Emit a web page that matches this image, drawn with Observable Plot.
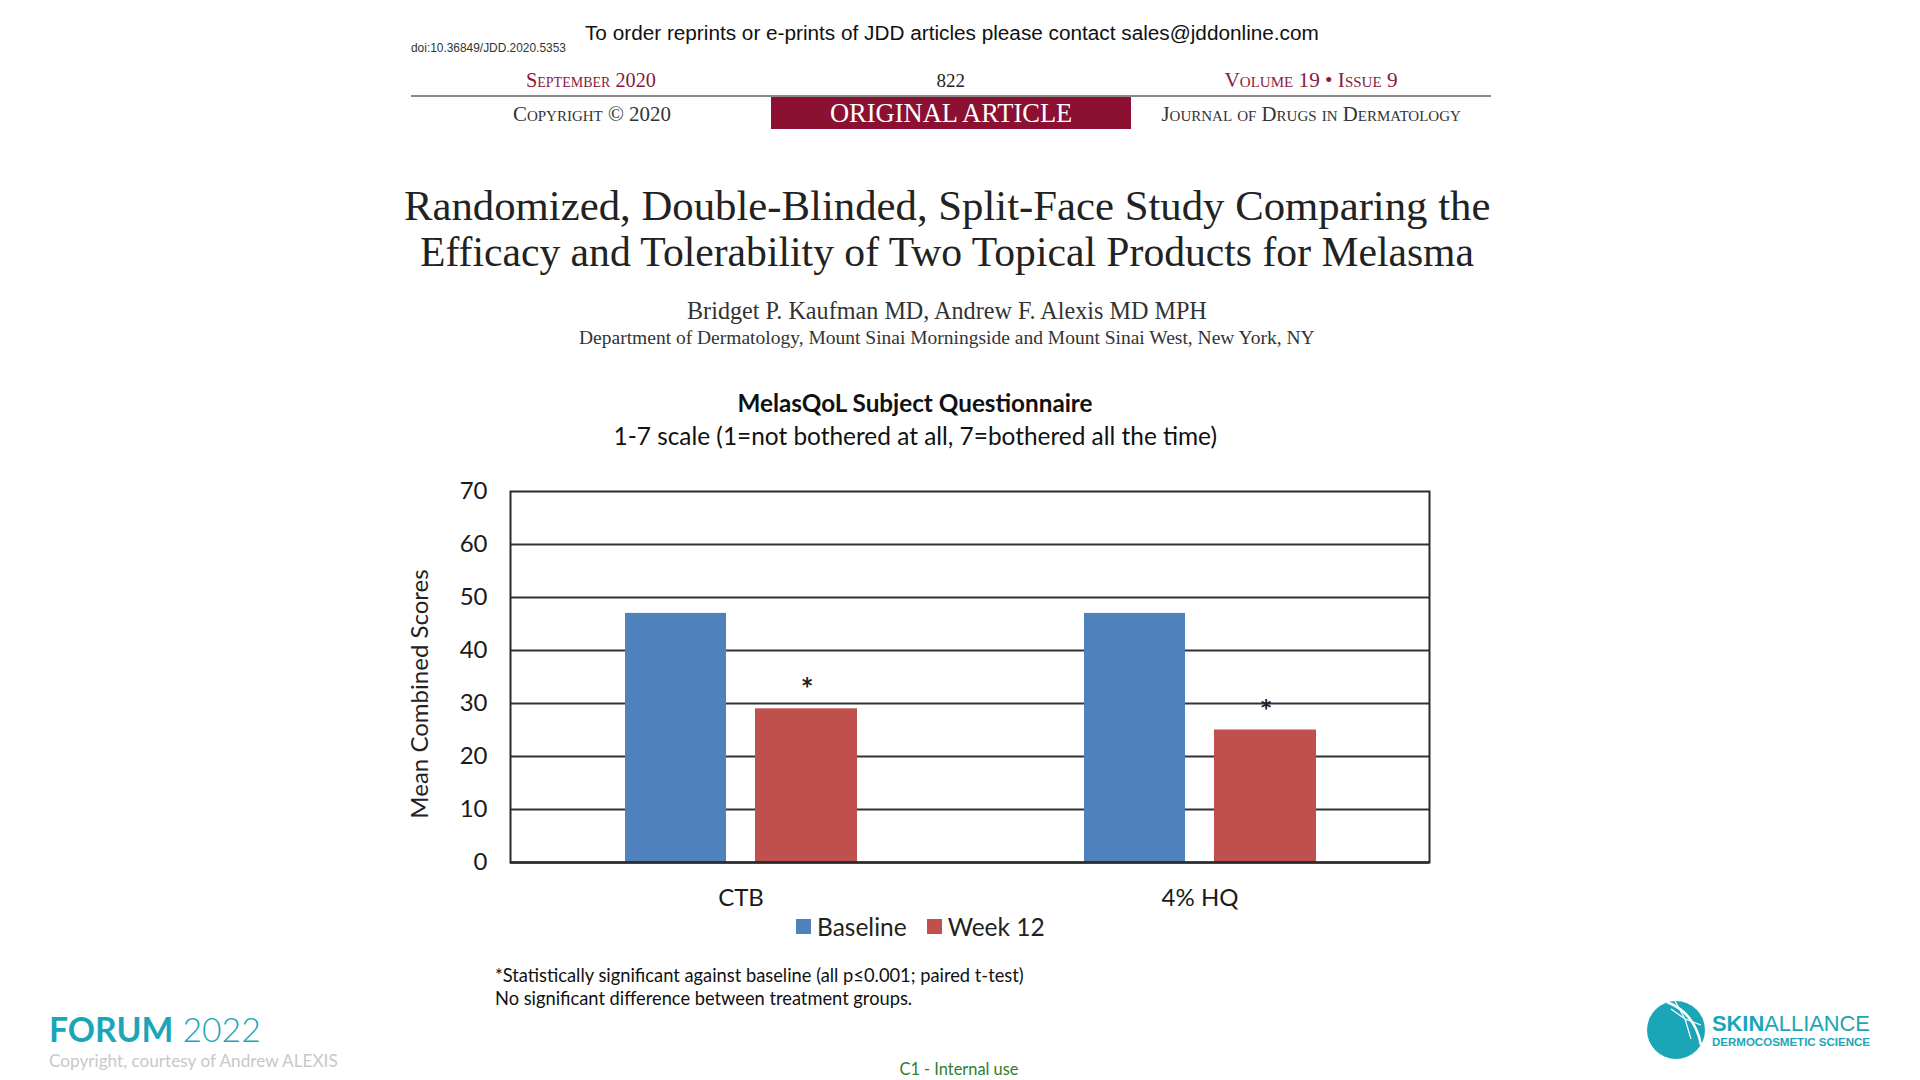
<!DOCTYPE html>
<html><head><meta charset="utf-8">
<script src="https://cdn.jsdelivr.net/npm/d3@7"></script>
<script src="https://cdn.jsdelivr.net/npm/@observablehq/plot@0.6"></script>
<style>
html,body{margin:0;padding:0;background:#fff;}
#page{position:relative;width:1920px;height:1080px;overflow:hidden;background:#fff;}
.t{position:absolute;white-space:nowrap;line-height:1;}
.serif{font-family:"Liberation Serif","Times New Roman",serif;}
.sans{font-family:Lato,"Noto Sans",sans-serif;}
.arial{font-family:"Liberation Sans",Arial,sans-serif;}
.sc{font-variant:small-caps;}
#plot{position:absolute;left:380px;top:470px;}
#legend{position:absolute;left:796px;top:910px;}
#legend > div{font-family:Lato,"Noto Sans",sans-serif !important;font-size:24.5px !important;color:#222 !important;margin:0 !important;}
#legend svg{margin-right:6px !important;}
#legend span{margin-right:20px;}
</style></head>
<body><div id="page">
<div class="t arial" style="font-family:'Liberation Sans Narrow','Liberation Sans',sans-serif;color:#333" data-l="411" data-cy="49" data-w="155" data-fs="12">doi:10.36849/JDD.2020.5353</div>
<div class="t arial" style="color:#111" data-cx="952" data-cy="33" data-w="734" data-fs="20">To order reprints or e-prints of JDD articles please contact sales@jddonline.com</div>
<div class="t serif sc" style="color:#8a1a3c" data-cx="591" data-cy="80" data-w="133" data-fs="18">September 2020</div>
<div class="t serif" style="color:#222" data-cx="951" data-cy="80" data-fs="19">822</div>
<div class="t serif sc" style="color:#8a1a3c" data-cx="1311" data-cy="80" data-w="175" data-fs="18">Volume 19 &#8226; Issue 9</div>
<div style="position:absolute;left:411px;top:95px;width:1080px;height:2px;background:#8a8a8a"></div>
<div style="position:absolute;left:771px;top:97px;width:360px;height:32px;background:#8b1031"></div>
<div class="t serif" style="color:#fff" data-cx="951" data-cy="113" data-w="242" data-fs="22">ORIGINAL ARTICLE</div>
<div class="t serif sc" style="color:#333" data-cx="592" data-cy="114" data-w="158" data-fs="18">Copyright &#169; 2020</div>
<div class="t serif sc" style="color:#333" data-cx="1311" data-cy="114" data-w="300" data-fs="18">Journal of Drugs in Dermatology</div>
<div class="t serif" style="color:#222" data-cx="947" data-cy="206" data-w="1087" data-fs="38">Randomized, Double-Blinded, Split-Face Study Comparing the</div>
<div class="t serif" style="color:#222" data-cx="947" data-cy="253" data-w="1054" data-fs="38">Efficacy and Tolerability of Two Topical Products for Melasma</div>
<div class="t serif" style="color:#333" data-cx="947" data-cy="311" data-w="520" data-fs="22">Bridget P. Kaufman MD, Andrew F. Alexis MD MPH</div>
<div class="t serif" style="color:#333" data-cx="947" data-cy="338" data-w="736" data-fs="17">Department of Dermatology, Mount Sinai Morningside and Mount Sinai West, New York, NY</div>
<div class="t sans" style="color:#111;font-weight:bold" data-cx="915" data-cy="403" data-w="355" data-fs="22">MelasQoL Subject Questionnaire</div>
<div class="t sans" style="color:#111" data-cx="915" data-cy="436" data-w="604" data-fs="22">1-7 scale (1=not bothered at all, 7=bothered all the time)</div>
<div class="t sans" style="color:#222" data-cx="418" data-cy="694" data-w="249" data-fs="22" data-rot="1">Mean Combined Scores</div>
<div id="plot"></div>
<div id="legend"></div>
<div class="t sans" style="color:#111" data-l="495" data-cy="975" data-w="529" data-fs="17">*Statistically significant against baseline (all p&#8804;0.001; paired t-test)</div>
<div class="t sans" style="color:#111" data-l="495" data-cy="998" data-w="417" data-fs="17">No significant difference between treatment groups.</div>
<div class="t sans" style="color:#1ba6b8" data-l="49" data-cy="1030" data-w="212" data-fs="31"><b>FORUM</b><span style="font-weight:300"> 2022</span></div>
<div class="t sans" style="color:#c8c8c8" data-l="49" data-cy="1060" data-w="289" data-fs="16">Copyright, courtesy of Andrew ALEXIS</div>
<svg style="position:absolute;left:1645px;top:999px" width="62" height="62">
<circle cx="31" cy="31" r="29" fill="#1ba6b8"/>
<path d="M22 3 Q 50 14 56 46" fill="none" stroke="#fff" stroke-width="2.5"/>
<path d="M30 2 L40 20 L56 26 M40 20 L46 40 M26 10 L40 20" fill="none" stroke="#fff" stroke-width="1.2"/>
</svg>
<div class="t arial" style="color:#1ba6b8" data-l="1712" data-cy="1024" data-w="158" data-fs="22"><b>SKIN</b><span>ALLIANCE</span></div>
<div class="t arial" style="color:#1ba6b8;font-weight:bold" data-l="1712" data-cy="1043" data-w="158" data-fs="10">DERMOCOSMETIC SCIENCE</div>
<div class="t sans" style="color:#2e7d32" data-cx="959" data-cy="1069" data-w="119" data-fs="15">C1 - Internal use</div>
</div>
<script>
const categories = ["CTB", "4% HQ"];
const seriesNames = ["Baseline", "Week 12"];
const seriesColors = ["#4f81bd", "#c0504d"];
const baselineValues = [47, 47];
const week12Values = [29, 25];
const significant = [true, true];
const yTicks = [0, 10, 20, 30, 40, 50, 60, 70];

const rows = categories.flatMap((c, i) => [
  {category: c, series: seriesNames[0], value: baselineValues[i]},
  {category: c, series: seriesNames[1], value: week12Values[i]}
]);
const stars = categories.map((c, i) => ({category: c, value: week12Values[i], mark: significant[i] ? "*" : ""}));

const chart = Plot.plot({
  width: 1089, height: 441,
  marginLeft: 130, marginRight: 40, marginTop: 21, marginBottom: 49,
  style: {fontFamily: 'Lato, "Noto Sans", sans-serif', fontSize: "24px", color: "#1a1a1a", background: "transparent", overflow: "visible"},
  x: {type: "band", domain: categories, padding: 0, tickSize: 0, tickPadding: 26, label: null},
  y: {domain: [0, 70], ticks: yTicks, tickSize: 0, tickPadding: 23, label: null},
  color: {domain: seriesNames, range: seriesColors},
  marks: [
    Plot.ruleY(yTicks.filter(v => v > 0 && v < 70), {stroke: "#333", strokeWidth: 2}),
    Plot.barY(rows.filter(d => d.series === seriesNames[0]), {x: "category", y: "value", fill: "series", insetLeft: 114, insetRight: 244}),
    Plot.barY(rows.filter(d => d.series === seriesNames[1]), {x: "category", y: "value", fill: "series", insetLeft: 244, insetRight: 113}),
    Plot.text(stars, {x: "category", y: "value", text: "mark", dx: 66, dy: -18, fontSize: 30, fontWeight: "bold", fill: "#222"}),
    Plot.frame({stroke: "#2a2a2a", strokeWidth: 2}),
    Plot.ruleY([0], {stroke: "#2a2a2a", strokeWidth: 2.5})
  ]
});
document.getElementById("plot").appendChild(chart);

const leg = Plot.legend({color: {domain: seriesNames, range: seriesColors}, legend: "swatches", swatchSize: 15});
document.getElementById("legend").appendChild(leg);

document.querySelectorAll(".t").forEach(el => {
  const fs = +el.dataset.fs;
  el.style.fontSize = fs + "px";
  if (el.dataset.w) {
    const w0 = el.offsetWidth;
    el.style.fontSize = (fs * (+el.dataset.w) / w0) + "px";
  }
  const w = el.offsetWidth, h = el.offsetHeight;
  const left = el.dataset.l != null ? +el.dataset.l : (+el.dataset.cx - w / 2);
  el.style.left = left + "px";
  el.style.top = (+el.dataset.cy - h / 2) + "px";
  if (el.dataset.rot) el.style.transform = "rotate(-90deg)";
});
</script>
</body></html>
